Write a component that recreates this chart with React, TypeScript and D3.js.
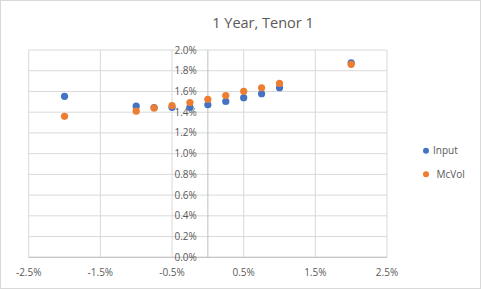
import React from 'react';
import * as d3 from 'd3';

// strike offsets (as fractions) and the two vol series
const offsets = [-0.02, -0.01, -0.0075, -0.005, -0.0025, 0, 0.0025, 0.005, 0.0075, 0.01, 0.02];
const inputVols = [0.01553, 0.01458, 0.01445, 0.01447, 0.01447, 0.01472, 0.01504, 0.0154, 0.01578, 0.01636, 0.01875];
const mcVols = [0.0136, 0.0141, 0.01441, 0.01464, 0.01493, 0.01525, 0.0156, 0.01602, 0.01636, 0.01678, 0.01862];

const xTicks = [-0.025, -0.015, -0.005, 0.005, 0.015, 0.025];
const yTicks = [0, 0.002, 0.004, 0.006, 0.008, 0.01, 0.012, 0.014, 0.016, 0.018, 0.02];

const seriesNames = ['Input', 'McVol'];
const colors = ['#4472C4', '#ED7D31'];

const W = 481;
const H = 289;
const font = '"Open Sans", "Noto Sans", sans-serif';

export default function App() {
  const x = d3.scaleLinear().domain([-0.025, 0.025]).range([28.7, 387]);
  const y = d3.scaleLinear().domain([0, 0.02]).range([257.3, 50]);
  // excel style labels use a plain hyphen for negatives
  const pct = (v: number) => d3.format('.1%')(v).replace('\u2212', '-');

  const series = [inputVols, mcVols];

  return (
    <svg
      width={W}
      height={H}
      style={{ position: 'absolute', left: 0, top: 0, background: '#fff' }}
    >
      <rect x={0.5} y={0.5} width={W - 1} height={H - 1} fill="#fff" stroke="#d9d9d9" />

      <text x={263} y={28} textAnchor="middle" fontFamily={font} fontSize={14.5} fill="#595959">
        1 Year, Tenor 1
      </text>

      {/* gridlines */}
      {yTicks.map(t => (
        <line key={'gy' + t} x1={x(-0.025)} x2={x(0.025)} y1={y(t)} y2={y(t)} stroke="#d9d9d9" />
      ))}
      {xTicks.map(t => (
        <line key={'gx' + t} x1={x(t)} x2={x(t)} y1={y(0)} y2={y(0.02)} stroke="#d9d9d9" />
      ))}

      {/* axis lines */}
      <line x1={x(-0.025)} x2={x(0.025)} y1={y(0)} y2={y(0)} stroke="#bfbfbf" />
      <line x1={x(0)} x2={x(0)} y1={y(0)} y2={y(0.02)} stroke="#bfbfbf" />

      {/* y labels sit left of the vertical axis at zero */}
      {yTicks.map(t => (
        <text
          key={'ly' + t}
          x={x(0) - 11}
          y={y(t)}
          dy="0.35em"
          textAnchor="end"
          fontFamily={font}
          fontSize={10}
          fill="#595959"
        >
          {pct(t)}
        </text>
      ))}
      {xTicks.map(t => (
        <text
          key={'lx' + t}
          x={x(t)}
          y={272}
          dy="0.35em"
          textAnchor="middle"
          fontFamily={font}
          fontSize={10}
          fill="#595959"
        >
          {pct(t)}
        </text>
      ))}

      {series.map((vals, si) => (
        <g key={seriesNames[si]}>
          {vals.map((v, i) => (
            <circle key={i} cx={x(offsets[i])} cy={y(v)} r={3.6} fill={colors[si]} />
          ))}
        </g>
      ))}

      {/* legend */}
      {seriesNames.map((name, i) => (
        <g key={name} transform={`translate(426,${150.7 + i * 23.6})`}>
          <circle r={3} fill={colors[i]} />
          <text x={i === 0 ? 7 : 10.5} dy="0.35em" fontFamily={font} fontSize={10} fill="#595959">
            {name}
          </text>
        </g>
      ))}
    </svg>
  );
}
